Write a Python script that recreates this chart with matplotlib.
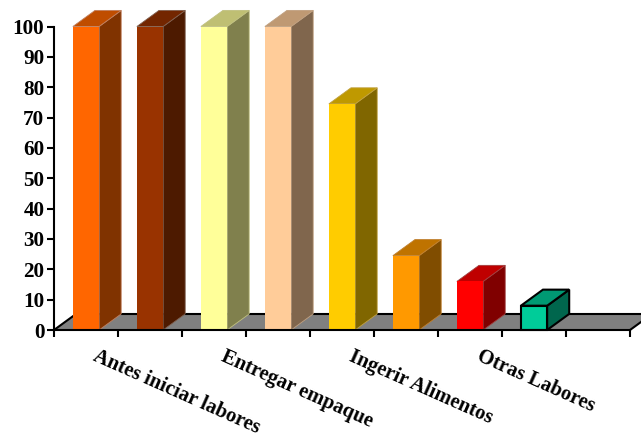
import matplotlib
matplotlib.use('Agg')
import matplotlib.pyplot as plt
from matplotlib.patches import Polygon
from matplotlib.colors import to_rgb

labels = ['Antes iniciar labores', 'Entregar empaque', 'Ingerir Alimentos', 'Otras Labores']
label_slots = [0, 2, 4, 6]
values = [100, 100, 100, 100, 74.5, 24.5, 16, 8]
colors = ['#ff6600', '#993300', '#ffff99', '#ffcc99', '#ffcc00', '#ff9900', '#ff0000', '#00cc99']
edges = ['#c08060', '#806050', '#c0c080', '#c0a080', '#c0a040', '#c08030', '#a04040', '#000000']
yticks = list(range(0, 101, 10))

plt.rcParams['font.family'] = 'Liberation Serif'
plt.rcParams['font.weight'] = 'bold'

W, H = 641, 437
fig = plt.figure(figsize=(W / 100, H / 100), dpi=100)
ax = fig.add_axes([54 / W, 1 - 330 / H, 576 / W, 303.5 / H])
ax.set_xlim(0, 9)
ax.set_ylim(0, 100)

# depth of the fake 3d box, in data units
dx = 0.345
dy = 5.3
bar_w = 0.41


def shade(c, f):
    r, g, b = to_rgb(c)
    return (r * f, g * f, b * f)


# floor
ax.add_patch(Polygon([(0, 0), (dx, dy), (9 + dx, dy), (9, 0)], closed=True,
                     facecolor='#808080', edgecolor='none', clip_on=False, zorder=1))
ax.plot([dx, 9 + dx], [dy, dy], color='k', lw=1.5, clip_on=False, zorder=1.5)
ax.plot([0, dx], [0, dy], color='k', lw=1.5, clip_on=False, zorder=1.5)
ax.plot([9, 9 + dx], [0, dy], color='k', lw=1.5, clip_on=False, zorder=1.5)

for i, v in enumerate(values):
    x0 = i + 0.5 - bar_w / 2
    x1 = x0 + bar_w
    lw = 1.5 if edges[i] == '#000000' else 0.6
    z = 3 + i
    ax.add_patch(Polygon([(x1, 0), (x1 + dx, dy), (x1 + dx, v + dy), (x1, v)], closed=True,
                         facecolor=shade(colors[i], 0.5), edgecolor=edges[i], lw=lw,
                         clip_on=False, zorder=z))
    ax.add_patch(Polygon([(x0, v), (x1, v), (x1 + dx, v + dy), (x0 + dx, v + dy)], closed=True,
                         facecolor=shade(colors[i], 0.75), edgecolor=edges[i], lw=lw,
                         clip_on=False, zorder=z))
    ax.add_patch(Polygon([(x0, 0), (x1, 0), (x1, v), (x0, v)], closed=True,
                         facecolor=colors[i], edgecolor=edges[i] if lw > 1 else 'none', lw=lw,
                         clip_on=False, zorder=z + 0.5))

for s in ['top', 'right']:
    ax.spines[s].set_visible(False)
for s in ['left', 'bottom']:
    ax.spines[s].set_linewidth(1.5)
    ax.spines[s].set_zorder(2)
ax.spines['bottom'].set_zorder(20)
ax.patch.set_visible(False)

ax.set_yticks(yticks)
ax.set_yticklabels([str(t) for t in yticks], fontsize=15.2, fontweight='bold')
ax.tick_params(axis='y', length=5, width=1.5, pad=2)

ax.set_xticks(range(10))
ax.set_xticklabels([])
ax.tick_params(axis='x', which='major', length=5, width=1.5)
# category names sit a little right of each slot centre
ax.set_xticks([s + 0.69 for s in label_slots], minor=True)
ax.set_xticklabels(labels, minor=True, fontsize=14.8, fontweight='bold', rotation=-24,
                   ha='left', va='top', rotation_mode='anchor')
ax.tick_params(axis='x', which='minor', length=0, pad=12)

fig.savefig('out.png', dpi=100)
